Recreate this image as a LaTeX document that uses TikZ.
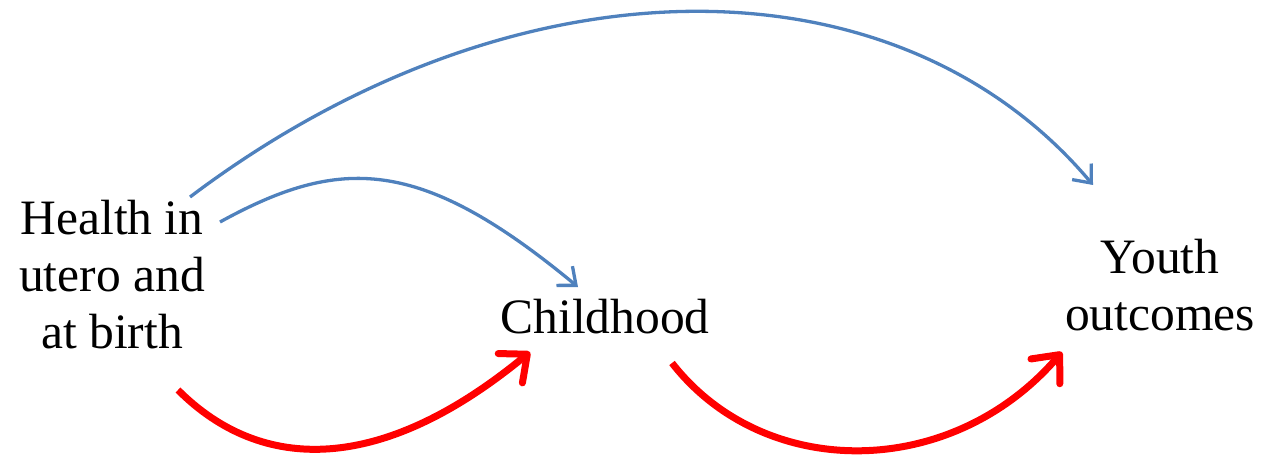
\documentclass[tikz,border=0pt]{standalone}
\usepackage{fontspec}
\setmainfont{Liberation Serif}
\usetikzlibrary{arrows.meta}
\definecolor{officeblue}{RGB}{79,129,189}
\begin{document}
\begin{tikzpicture}[x=1pt,y=1pt,
	stage/.style={align=center,inner sep=0pt,font=\fontsize{49.5}{57}\selectfont},
	thinlink/.style={officeblue,line width=3.3pt,-{Straight Barb[length=15pt,width=25pt]}},
	thicklink/.style={red,line width=7pt,-{Straight Barb[length=22pt,width=38pt,round]}}]
	\useasboundingbox (0,0) rectangle (1264,456);
	\node[stage] (health) at (112,181) {Health in\\utero and\\at birth};
	\node[stage,anchor=base] (child) at (605,123) {Childhood};
	\node[stage] (youth) at (1160,171) {Youth\\outcomes};
	\coordinate (h1) at (190,259); \coordinate (h2) at (220,234);
	\coordinate (h3) at (178,66); \coordinate (c1) at (578,169);
	\coordinate (c2) at (530,104); \coordinate (c3) at (672,93);
	\coordinate (y1) at (1093,271); \coordinate (y2) at (1062,104);
	\draw[thinlink] (h1) .. controls (515,504) and (897,504) .. (y1);
	\draw[thinlink] (h2) .. controls (340,300) and (420,300) .. (c1);
	\draw[thicklink] (h3) .. controls (262,-18) and (382,-18) .. (c2);
	\draw[thicklink] (c3) .. controls (764,-25) and (951,-25) .. (y2);
\end{tikzpicture}
\end{document}
